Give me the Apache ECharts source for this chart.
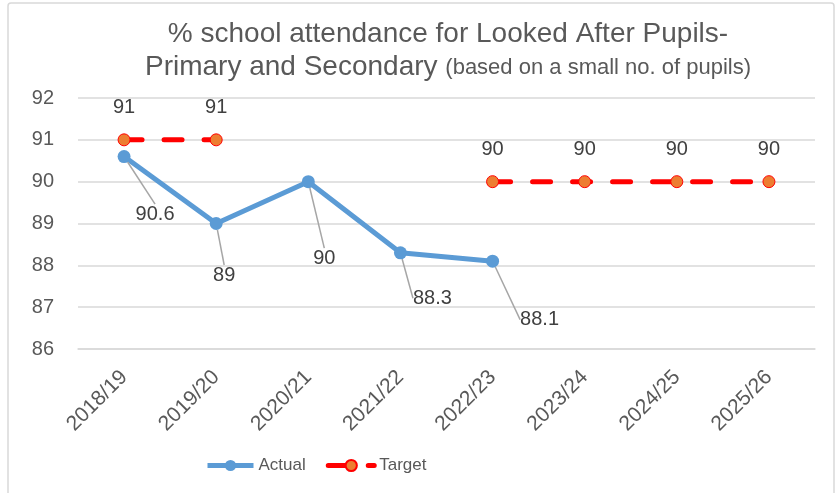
<!DOCTYPE html>
<html>
<head>
<meta charset="utf-8">
<script src="https://cdn.jsdelivr.net/npm/echarts@6/dist/echarts.min.js"></script>
<style>
  html, body { margin: 0; padding: 0; background: #fff; }
  #main { width: 839px; height: 493px; }
</style>
</head>
<body>
<div id="main"></div>
<script>
  var years = ['2018/19', '2019/20', '2020/21', '2021/22', '2022/23', '2023/24', '2024/25', '2025/26'];
  var actual = [90.6, 89, 90, 88.3, 88.1, null, null, null];
  var target = [91, 91, null, null, 90, 90, 90, 90];
  var yTicks = [86, 87, 88, 89, 90, 91, 92];

  // label nudges for the Actual series (leader lines like the excel chart)
  var actualLabelShift = [[31, 36], [8, 30], [16, 55], [32, 24], [47, 37]];

  var font = "'Liberation Sans', Arial, sans-serif";
  var myChart = echarts.init(document.getElementById('main'));
  myChart.setOption({
    animation: false,
    textStyle: { fontFamily: font },
    graphic: [{
      type: 'rect',
      shape: { x: 8, y: 3, width: 826, height: 500, r: 3 },
      style: { fill: 'none', stroke: '#d9d9d9', lineWidth: 1.5 }
    }],
    title: {
      left: 443,
      textAlign: 'center',
      top: 13,
      text: '{a|% school attendance for Looked After Pupils-}\n{a|Primary and Secondary }{b|(based on a small no. of pupils)}',
      textStyle: {
        fontWeight: 'normal',
        rich: {
          a: { fontSize: 28, color: '#595959', lineHeight: 33, fontWeight: 'normal', fontFamily: font },
          b: { fontSize: 22, color: '#595959', lineHeight: 33, fontWeight: 'normal', fontFamily: font }
        }
      }
    },
    grid: { left: 78, right: 24, top: 98, bottom: 144 },
    legend: {
      bottom: 14,
      left: 200,
      itemWidth: 46,
      itemHeight: 14,
      itemGap: 20,
      textStyle: { fontSize: 17, color: '#595959' },
      data: [
        { name: 'Actual', lineStyle: { width: 5 } },
        { name: 'Target', lineStyle: { width: 5 } }
      ]
    },
    xAxis: {
      type: 'category',
      data: years,
      axisLine: { lineStyle: { color: '#d9d9d9', width: 1.5 } },
      axisTick: { show: false },
      axisLabel: { rotate: 45, fontSize: 21, color: '#595959', margin: 25 }
    },
    yAxis: {
      type: 'value',
      min: yTicks[0],
      max: yTicks[yTicks.length - 1],
      interval: 1,
      axisLine: { show: false },
      axisTick: { show: false },
      axisLabel: { fontSize: 20, color: '#595959', margin: 24 },
      splitLine: { lineStyle: { color: '#d9d9d9', width: 1.5 } }
    },
    series: [
      {
        name: 'Actual',
        type: 'line',
        data: actual,
        symbol: 'circle',
        symbolSize: 13,
        itemStyle: { color: '#5B9BD5' },
        lineStyle: { color: '#5B9BD5', width: 5 },
        label: {
          show: true,
          position: 'bottom',
          distance: 5,
          fontSize: 20,
          color: '#404040'
        },
        labelLine: { show: true, lineStyle: { color: '#a6a6a6', width: 1.5 } },
        labelLayout: function (params) {
          var s = actualLabelShift[params.dataIndex] || [0, 0];
          return { dx: s[0], dy: s[1] };
        }
      },
      {
        name: 'Target',
        type: 'line',
        data: target,
        symbol: 'circle',
        symbolSize: 12,
        itemStyle: { color: '#ED7D31', borderColor: '#FF0000', borderWidth: 1 },
        lineStyle: { color: '#FF0000', width: 5, type: [18, 22], cap: 'round' },
        label: {
          show: true,
          position: 'top',
          distance: 16,
          fontSize: 20,
          color: '#404040'
        }
      }
    ]
  });
</script>
</body>
</html>
